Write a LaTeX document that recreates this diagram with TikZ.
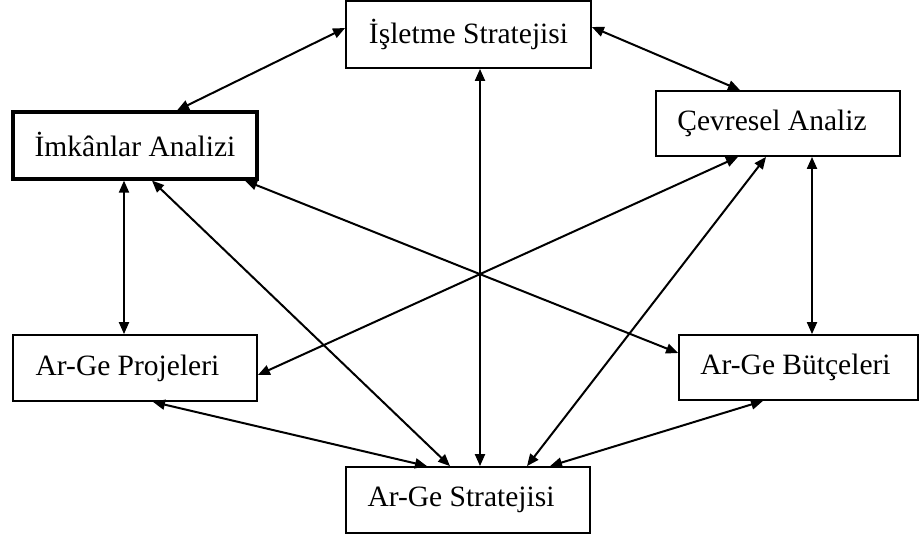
\documentclass[tikz,border=0pt]{standalone}
\usepackage{fontspec}
\setmainfont{Liberation Serif}
\usetikzlibrary{arrows.meta,calc}
\newcommand{\boxtext}[2]{\raisebox{3pt}{#1\hspace*{#2}}}
\begin{document}
\begin{tikzpicture}[x=1pt,y=-1pt,
  box/.style={draw=black, line width=1.8pt, fill=white, inner sep=0pt,
    font=\fontsize{29.5}{34}\selectfont},
  link/.style={line width=2pt, {Triangle[length=12pt,width=10pt]}-{Triangle[length=12pt,width=10pt]}}]
\useasboundingbox (0,0) rectangle (920,542);
% boxes
\node[box, minimum width=245pt, minimum height=67pt] (isl) at (468.5,34.5) {\boxtext{İşletme Stratejisi}{0pt}};
\node[box, line width=3.2pt, minimum width=244pt, minimum height=67pt] (imk) at (135,145.5) {\boxtext{İmkânlar Analizi}{0pt}};
\node[box, minimum width=244pt, minimum height=65pt] (cev) at (778,123.5) {\boxtext{Çevresel Analiz}{12pt}};
\node[box, minimum width=244pt, minimum height=66pt] (proj) at (135,368) {\boxtext{Ar-Ge Projeleri}{15pt}};
\node[box, minimum width=239pt, minimum height=65pt] (but) at (798.5,367.5) {\boxtext{Ar-Ge Bütçeleri}{6pt}};
\node[box, minimum width=244pt, minimum height=66pt] (str) at (468,500) {\boxtext{Ar-Ge Stratejisi}{14pt}};
% connectors
\draw[link] ($(isl.west)+(0,-6.5)$) -- ($(imk.north)+(42,0)$);
\draw[link] ($(isl.east)+(0,-7.5)$) -- ($(cev.north)+(-38,0)$);
\draw[link] ($(isl.south)+(11.5,0)$) -- ($(str.north)+(12,0)$);
\draw[link] ($(imk.south)+(-11,0)$) -- ($(proj.north)+(-11,0)$);
\draw[link] ($(imk.south)+(17,0)$) -- ($(str.north)+(-18,0)$);
\draw[link] ($(imk.south)+(110,0)$) -- ($(but.west)+(0,-14.5)$);
\draw[link] ($(cev.south)+(-40,0)$) -- ($(proj.east)+(0,7)$);
\draw[link] ($(cev.south)+(-12,0)$) -- ($(str.north)+(59,0)$);
\draw[link] ($(cev.south)+(34,0)$) -- ($(but.north)+(13.5,0)$);
\draw[link] ($(proj.south)+(18,0)$) -- ($(str.north)+(-41,0)$);
\draw[link] ($(but.south)+(-35.5,0)$) -- ($(str.north)+(82,0)$);
\end{tikzpicture}
\end{document}
